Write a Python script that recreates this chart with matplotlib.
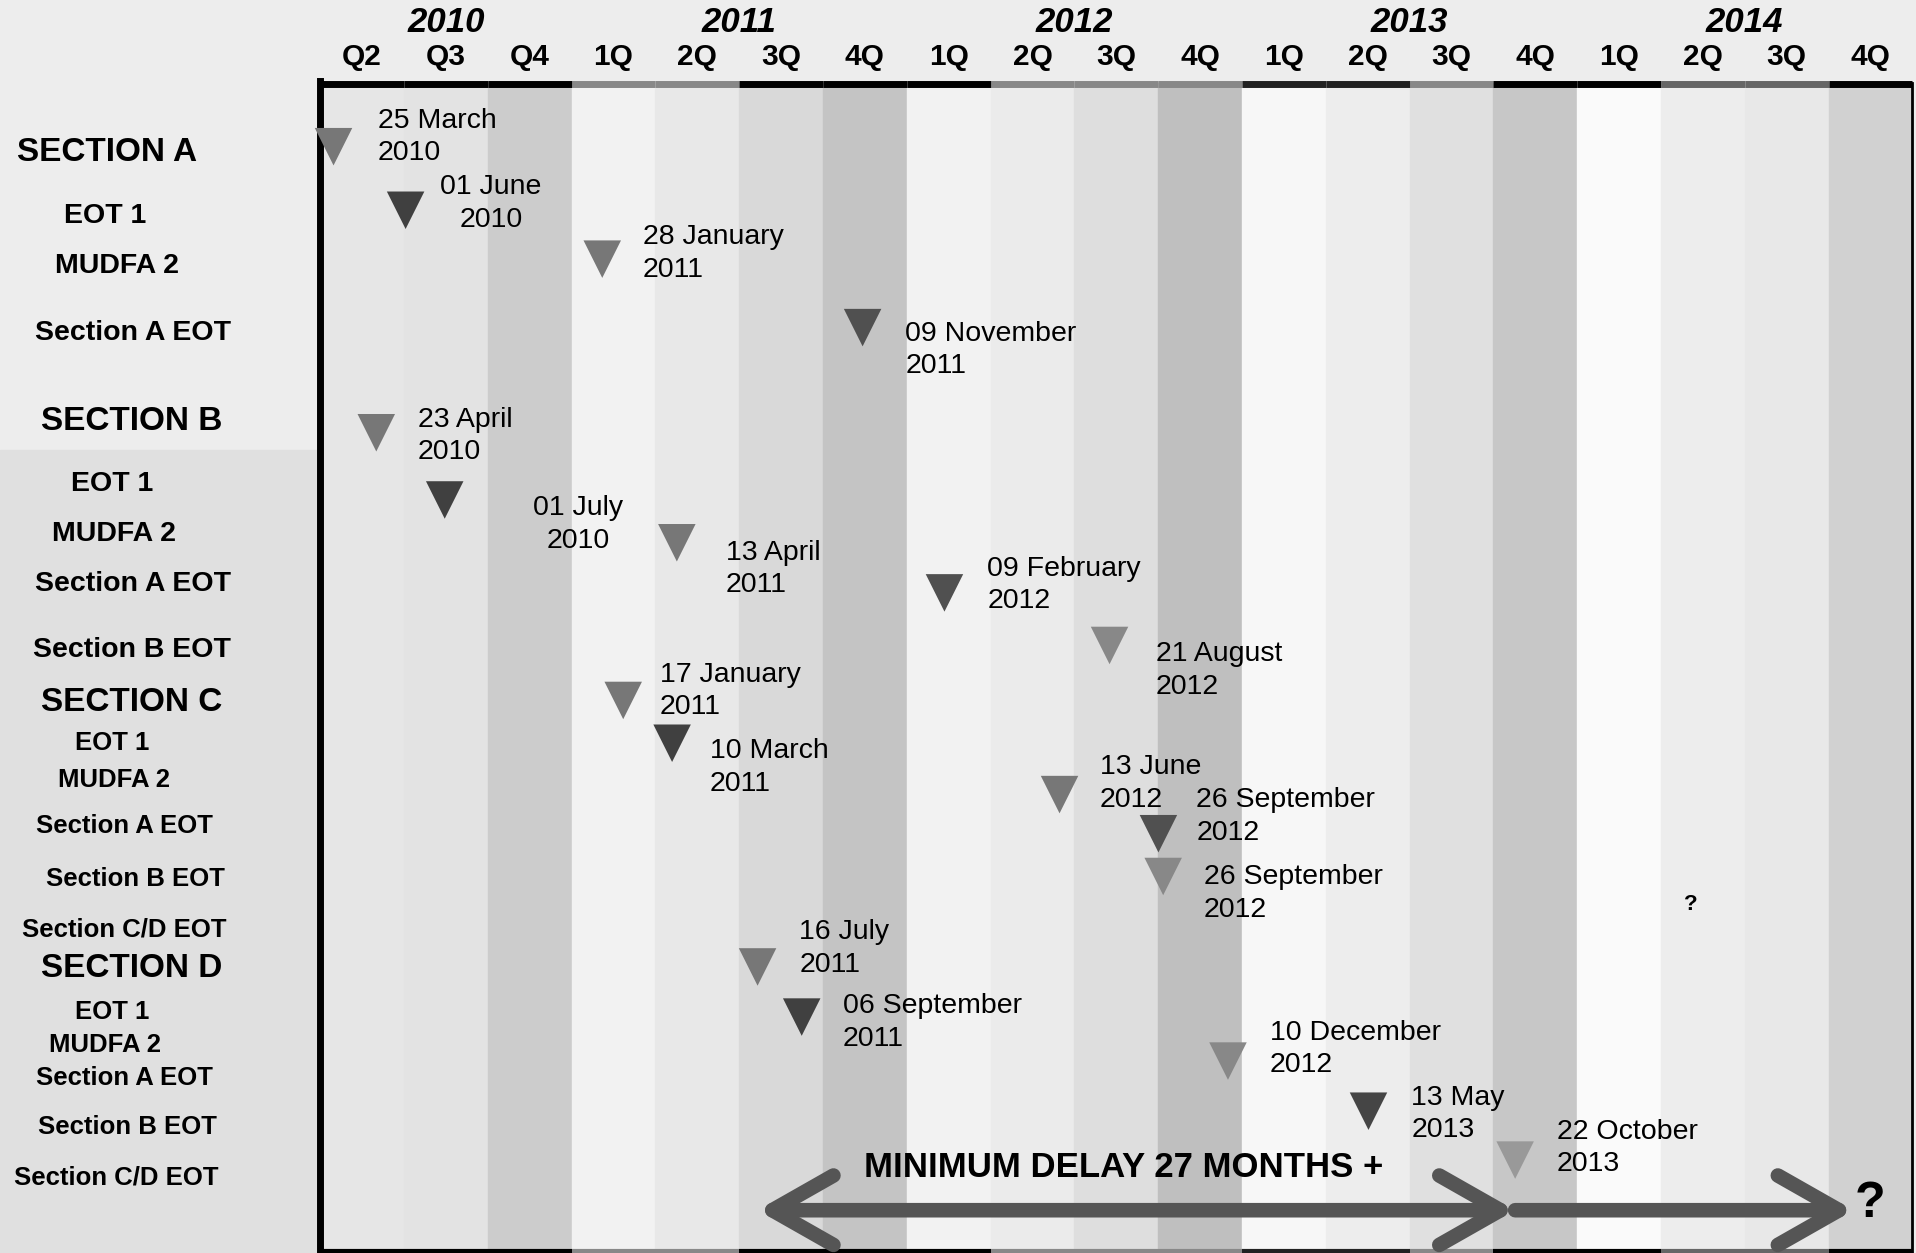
import matplotlib.pyplot as plt
from matplotlib.patches import FancyArrowPatch, ArrowStyle, Rectangle

plt.rcParams['font.family'] = ['Liberation Sans', 'DejaVu Sans']

# tijdas in maanden vanaf 1 april 2010 (19 kwartalen)
quarters = ['Q2', 'Q3', 'Q4'] + ['1Q', '2Q', '3Q', '4Q'] * 4
years = ['2010', '2011', '2012', '2013', '2014']
year_x = [4.5, 15, 27, 39, 51]
quarter_gray = [0.90, 0.89, 0.80, 0.95, 0.91, 0.85, 0.77, 0.95, 0.92, 0.87,
                0.75, 0.97, 0.93, 0.88, 0.78, 0.98, 0.93, 0.91, 0.82]
border_gray = ['#000000', '#000000', '#000000', '#888888', '#888888', '#000000',
               '#000000', '#000000', '#888888', '#888888', '#888888', '#222222',
               '#222222', '#888888', '#000000', '#000000', '#666666', '#666666',
               '#000000']

# rijen links
row_labels = ['SECTION A', 'EOT 1', 'MUDFA 2', 'Section A EOT',
              'SECTION B', 'EOT 1', 'MUDFA 2', 'Section A EOT', 'Section B EOT',
              'SECTION C', 'EOT 1', 'MUDFA 2', 'Section A EOT', 'Section B EOT', 'Section C/D EOT',
              'SECTION D', 'EOT 1', 'MUDFA 2', 'Section A EOT', 'Section B EOT', 'Section C/D EOT']
row_y = [125, 177, 218, 272,
         345, 396, 437, 478, 532,
         575, 608, 638, 676, 719, 760,
         792, 828, 855, 882, 922, 963]
row_x = [-7.61, -7.70, -7.26, -6.69,
         -6.74, -7.44, -7.39, -6.69, -6.74,
         -6.74, -7.44, -7.39, -7.00, -6.61, -7.00,
         -6.74, -7.44, -7.70, -7.00, -6.91, -7.31]
row_size = [24, 20.5, 20.5, 20.5,
            24, 20.5, 20.5, 20.5, 20.5,
            24, 18.5, 18.5, 18.5, 18.5, 18.5,
            24, 18.5, 18.5, 18.5, 18.5, 18.5]

# mijlpalen
event_dates = ['25 March 2010', '01 June 2010', '28 January 2011', '09 November 2011',
               '23 April 2010', '01 July 2010', '13 April 2011', '09 February 2012',
               '21 August 2012', '17 January 2011', '10 March 2011', '13 June 2012',
               '26 September 2012', '26 September 2012', '16 July 2011',
               '06 September 2011', '10 December 2012', '13 May 2013', '22 October 2013']
event_x = [0.48, 3.06, 10.10, 19.42, 2.01, 4.46, 12.77, 22.35, 28.26, 10.85,
           12.60, 26.47, 30.01, 30.18, 15.66, 17.24, 32.50, 37.53, 42.78]
event_y = [120, 172, 212, 268, 354, 409, 444, 485, 528, 573,
           608, 650, 682, 717, 791, 832, 868, 909, 949]
event_gray = ['#777777', '#404040', '#777777', '#505050', '#777777', '#404040',
              '#777777', '#505050', '#888888', '#777777', '#404040', '#777777',
              '#505050', '#888888', '#777777', '#404040', '#888888', '#454545',
              '#999999']
label_x = [2.06, 6.12, 11.55, 20.95, 3.50, 9.23, 14.52, 23.88, 29.92, 12.16,
           13.95, 27.91, 31.36, 31.63, 17.15, 18.72, 33.99, 39.06, 44.27]
label_y = [112, 166.5, 207.5, 286.5, 356.5, 429, 465.5, 478.5, 548.5, 565.5,
           628, 641, 668, 731, 776, 836.5, 858, 911.5, 939]
label_ha = ['left', 'center', 'left', 'left', 'left', 'center', 'left', 'left',
            'left', 'left', 'left', 'left', 'left', 'left', 'left', 'left',
            'left', 'left', 'left']

delay_start = 15.66
delay_end = 42.78
unknown_end = 54.9

fig = plt.figure(figsize=(19.16, 12.53), dpi=100)
fig.patch.set_facecolor('#ededed')
ax = fig.add_axes([0, 0, 1, 1])
ax.set_xlim(-11.46, 57.13)
ax.set_ylim(1025, 0)
ax.axis('off')

# achtergrond
ax.add_patch(Rectangle((-11.46, 368), 11.46, 700, color='#e0e0e0', zorder=0))
for i, g in enumerate(quarter_gray):
    ax.add_patch(Rectangle((3 * i, 68), 3, 1025 - 68, color=str(g), zorder=1))

# randen
for i, c in enumerate(border_gray):
    ax.plot([3 * i, 3 * i + 3], [69, 69], color=c, lw=5, solid_capstyle='butt', zorder=3)
    ax.plot([3 * i, 3 * i + 3], [1023, 1023], color=c, lw=3, solid_capstyle='butt', zorder=3)
ax.plot([0, 0], [66, 1025], color='black', lw=5, zorder=3)
ax.plot([57, 57], [68, 1025], color='black', lw=2, zorder=3)

# kop
for i, q in enumerate(quarters):
    ax.text(3 * i + 1.5, 47, q, ha='center', va='center', fontsize=21.5, fontweight='bold')
for y, x in zip(years, year_x):
    ax.text(x, 18, y, ha='center', va='center', fontsize=25, fontweight='bold', style='italic')

for lab, x, y, s in zip(row_labels, row_x, row_y, row_size):
    ax.text(x, y, lab, ha='center', va='center', fontsize=s, fontweight='bold')

ax.scatter(event_x, event_y, marker='v', s=27 ** 2, c=event_gray, edgecolors='none', zorder=5)
for d, x, y, ha in zip(event_dates, label_x, label_y, label_ha):
    dag, jaar = d.rsplit(' ', 1)
    ax.text(x, y, dag + '\n' + jaar, ha=ha, va='center', fontsize=20.5,
            linespacing=1.32, zorder=6)

# vertraging
stijl = dict(lw=10.5, color='#555555', shrinkA=0, shrinkB=0, zorder=6)
ax.add_patch(FancyArrowPatch((delay_start, 990), (delay_end, 990),
                             arrowstyle=ArrowStyle('<->', head_length=44, head_width=25), **stijl))
ax.add_patch(FancyArrowPatch((delay_end, 990), (unknown_end, 990),
                             arrowstyle=ArrowStyle('->', head_length=44, head_width=25), **stijl))
ax.text(28.78, 955, 'MINIMUM DELAY 27 MONTHS +', ha='center',
        va='center', fontsize=25, fontweight='bold', zorder=7)
ax.text(55.47, 985, '?', ha='center', va='center', fontsize=36, fontweight='bold', zorder=7)
ax.text(49.08, 740, '?', ha='center', va='center', fontsize=16, fontweight='bold', zorder=7)

fig.savefig('out.png', dpi=100, facecolor=fig.get_facecolor())
